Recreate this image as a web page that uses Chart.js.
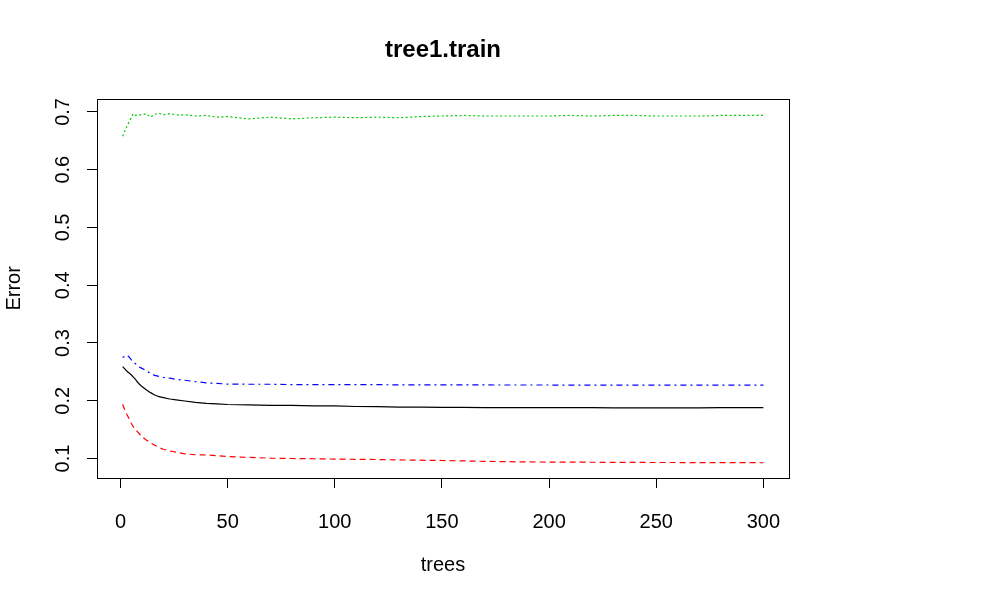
<!DOCTYPE html>
<html>
<head>
<meta charset="utf-8">
<title>tree1.train</title>
<script src="https://cdn.jsdelivr.net/npm/chart.js@4/dist/chart.umd.min.js"></script>
<style>
  html, body { margin: 0; padding: 0; background: #fff; }
  #wrap { width: 992px; height: 606px; }
</style>
</head>
<body>
<div id="wrap"><canvas id="errChart" width="992" height="606"></canvas></div>
<script>
const trees = [1, 2, 3, 4, 5, 6, 7, 8, 9, 10, 12, 14, 16, 18, 20, 23, 26, 30, 35, 40, 45, 50, 55, 60,
  70, 80, 90, 100, 110, 120, 130, 140, 150, 160, 170, 180, 190, 200, 210, 220, 230, 240, 250, 260,
  270, 280, 290, 300];

// OOB error (black, solid)
const oobErr = [0.259, 0.255, 0.251, 0.248, 0.245, 0.241, 0.237, 0.232, 0.228, 0.2245, 0.219, 0.214,
  0.210, 0.207, 0.2055, 0.203, 0.2015, 0.1995, 0.197, 0.1955, 0.1945, 0.1935, 0.193, 0.1928,
  0.192, 0.1918, 0.1912, 0.191, 0.190, 0.1897, 0.189, 0.1888, 0.1886, 0.1884, 0.1882, 0.188,
  0.188, 0.188, 0.188, 0.188, 0.1875, 0.1877, 0.1877, 0.1876, 0.1876, 0.188, 0.188, 0.188];

// class error (red, dashed)
const class1Err = [0.194, 0.184, 0.176, 0.169, 0.161, 0.155, 0.150, 0.146, 0.142, 0.138, 0.132, 0.127,
  0.123, 0.119, 0.116, 0.113, 0.111, 0.108, 0.1065, 0.106, 0.105, 0.1035, 0.1025, 0.102,
  0.1005, 0.100, 0.0995, 0.099, 0.0985, 0.0982, 0.0975, 0.097, 0.0965, 0.0958, 0.095, 0.0945,
  0.094, 0.0938, 0.0936, 0.0935, 0.0933, 0.0932, 0.093, 0.093, 0.0929, 0.0928, 0.0928, 0.0926];

// class error (green, dotted)
const class2Err = [0.658, 0.667, 0.675, 0.683, 0.690, 0.697, 0.694, 0.694, 0.695, 0.695, 0.697, 0.691,
  0.696, 0.698, 0.695, 0.697, 0.695, 0.695, 0.693, 0.694, 0.691, 0.692, 0.690, 0.688,
  0.691, 0.688, 0.690, 0.691, 0.690, 0.691, 0.690, 0.692, 0.693, 0.694, 0.693, 0.693,
  0.693, 0.693, 0.694, 0.693, 0.694, 0.694, 0.693, 0.693, 0.693, 0.694, 0.694, 0.694];

// class error (blue, dot-dash)
const class3Err = [0.275, 0.277, 0.279, 0.276, 0.271, 0.267, 0.264, 0.261, 0.258, 0.256, 0.252, 0.247,
  0.244, 0.242, 0.2405, 0.239, 0.237, 0.2355, 0.233, 0.231, 0.230, 0.2288, 0.2288, 0.2285,
  0.2285, 0.228, 0.228, 0.228, 0.2278, 0.2278, 0.2275, 0.2275, 0.2275, 0.2273, 0.2273, 0.2272,
  0.2272, 0.2272, 0.2271, 0.2271, 0.2271, 0.227, 0.227, 0.227, 0.227, 0.227, 0.227, 0.227];

const xTicks = [0, 50, 100, 150, 200, 250, 300];
const yTicks = [0.1, 0.2, 0.3, 0.4, 0.5, 0.6, 0.7];

function pairs(vals) {
  return trees.map((t, i) => ({ x: t, y: vals[i] }));
}

// R-style box around the plot region
const boxPlugin = {
  id: 'plotBox',
  afterDraw(chart) {
    const a = chart.chartArea;
    const c = chart.ctx;
    c.save();
    c.strokeStyle = '#000';
    c.lineWidth = 1;
    c.strokeRect(Math.round(a.left) + 0.5, Math.round(a.top) + 0.5,
      Math.round(a.right - a.left), Math.round(a.bottom - a.top));
    c.restore();
  }
};

const font = { family: 'Liberation Sans, Arial, sans-serif', size: 20 };

function line(label, vals, color, dash) {
  return {
    label: label,
    data: pairs(vals),
    borderColor: color,
    borderWidth: 1.2,
    borderDash: dash,
    pointRadius: 0,
    tension: 0,
    fill: false
  };
}

new Chart(document.getElementById('errChart').getContext('2d'), {
  type: 'line',
  data: {
    datasets: [
      line('OOB', oobErr, '#000000', []),
      line('1', class1Err, '#FF0000', [6, 4]),
      line('2', class2Err, '#00CD00', [2, 2.5]),
      line('3', class3Err, '#0000FF', [2, 4, 6, 4])
    ]
  },
  options: {
    responsive: false,
    animation: false,
    devicePixelRatio: 1,
    layout: { padding: { left: 0, right: 203, top: 0, bottom: 0 } },
    plugins: {
      legend: { display: false },
      tooltip: { enabled: false },
      title: {
        display: true,
        text: 'tree1.train',
        fullSize: false,
        color: '#000',
        font: { family: font.family, size: 24, weight: 'bold' },
        padding: { top: 36, bottom: 34 }
      }
    },
    scales: {
      x: {
        type: 'linear',
        min: -10.96,
        max: 311.96,
        afterBuildTicks: s => { s.ticks = xTicks.map(v => ({ value: v })); },
        afterFit: s => { s.height = 128; },
        grid: { drawOnChartArea: false, tickLength: 10, color: '#000', lineWidth: 1 },
        border: { display: false },
        ticks: { color: '#000', font: font, padding: 22, maxRotation: 0, callback: v => String(v) },
        title: { display: true, text: 'trees', color: '#000', font: font, padding: { top: 0, bottom: 29 } }
      },
      y: {
        type: 'linear',
        min: 0.0662,
        max: 0.7228,
        afterBuildTicks: s => { s.ticks = yTicks.map(v => ({ value: v })); },
        afterFit: s => { s.width = 97; },
        grid: { drawOnChartArea: false, tickLength: 10, color: '#000', lineWidth: 1 },
        border: { display: false },
        ticks: {
          color: '#000', font: font, padding: 10, minRotation: 90, maxRotation: 90,
          crossAlign: 'center', callback: v => v.toFixed(1)
        },
        title: { display: true, text: 'Error', color: '#000', font: font, padding: { top: 2, bottom: 0 } }
      }
    }
  },
  plugins: [boxPlugin]
});
</script>
</body>
</html>
